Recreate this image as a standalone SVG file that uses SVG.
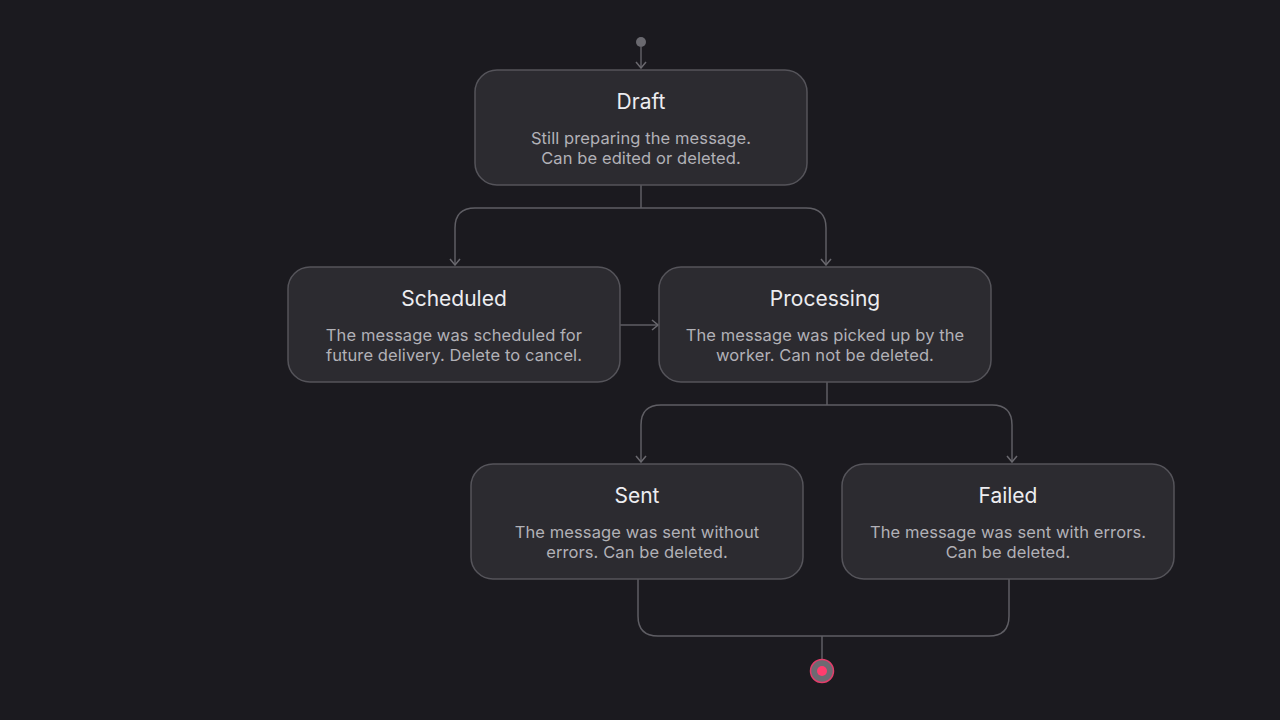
<svg xmlns="http://www.w3.org/2000/svg" width="1280" height="720" viewBox="0 0 1280 720">
<defs>
<marker id="arr" viewBox="0 0 12 12" refX="11" refY="6" markerWidth="12" markerHeight="12" markerUnits="userSpaceOnUse" orient="auto">
<path d="M5 1 L11 6 L5 11" fill="none" stroke="#6a696f" stroke-width="1.5"/>
</marker>
</defs>
<style>
.node rect{fill:#2c2b30;stroke:#55545a;stroke-width:1.5}
.t{font-family:Inter,"Noto Sans",sans-serif;font-size:21px;fill:#ededf0;text-anchor:middle}
.d{font-family:Inter,"Noto Sans",sans-serif;font-size:16.5px;letter-spacing:0.1px;fill:#b2b1b7;text-anchor:middle}
.e{fill:none;stroke:#5f5e64;stroke-width:1.5}
</style>
<rect width="1280" height="720" fill="#1b1a1f"/>
<g id="connectors">
<circle cx="641" cy="42" r="5" fill="#6a696f"/>
<path class="e" d="M641 46 V68" marker-end="url(#arr)"/>
<path class="e" d="M641 185 V208 M641 208 H475 Q455 208 455 228 V265" marker-end="url(#arr)"/>
<path class="e" d="M641 208 H806 Q826 208 826 228 V265" marker-end="url(#arr)"/>
<path class="e" d="M620 325 H658" marker-end="url(#arr)"/>
<path class="e" d="M827 382 V405 M827 405 H661 Q641 405 641 425 V462" marker-end="url(#arr)"/>
<path class="e" d="M827 405 H992 Q1012 405 1012 425 V462" marker-end="url(#arr)"/>
<path class="e" d="M638 579 V616 Q638 636 658 636 H989 Q1009 636 1009 616 V579"/>
<path class="e" d="M822 636 V659"/>
</g>
<g id="end">
<circle cx="822" cy="671" r="11.5" fill="#6e6a72" stroke="#e23d6a" stroke-width="1.5"/>
<circle cx="822" cy="671" r="5" fill="#ff3d6e"/>
</g>
<g id="draft" class="node">
<rect x="475" y="70" width="332" height="115" rx="22"/>
<text class="t" x="641" y="109">Draft</text>
<text class="d" x="641" y="144">Still preparing the message.</text>
<text class="d" x="641" y="164">Can be edited or deleted.</text>
</g>
<g id="scheduled" class="node">
<rect x="288" y="267" width="332" height="115" rx="22"/>
<text class="t" x="454" y="306">Scheduled</text>
<text class="d" x="454" y="341">The message was scheduled for</text>
<text class="d" x="454" y="361">future delivery. Delete to cancel.</text>
</g>
<g id="processing" class="node">
<rect x="659" y="267" width="332" height="115" rx="22"/>
<text class="t" x="825" y="306">Processing</text>
<text class="d" x="825" y="341">The message was picked up by the</text>
<text class="d" x="825" y="361">worker. Can not be deleted.</text>
</g>
<g id="sent" class="node">
<rect x="471" y="464" width="332" height="115" rx="22"/>
<text class="t" x="637" y="503">Sent</text>
<text class="d" x="637" y="538">The message was sent without</text>
<text class="d" x="637" y="558">errors. Can be deleted.</text>
</g>
<g id="failed" class="node">
<rect x="842" y="464" width="332" height="115" rx="22"/>
<text class="t" x="1008" y="503">Failed</text>
<text class="d" x="1008" y="538">The message was sent with errors.</text>
<text class="d" x="1008" y="558">Can be deleted.</text>
</g>
</svg>
